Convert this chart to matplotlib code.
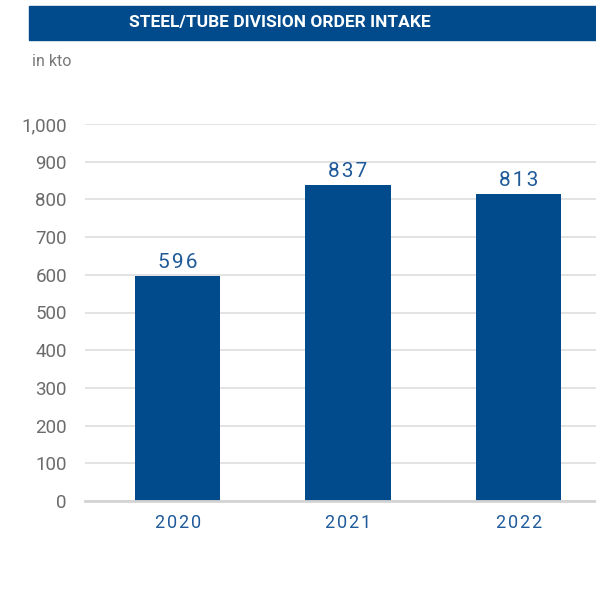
import matplotlib
matplotlib.use("Agg")
import matplotlib.pyplot as plt
from matplotlib.patches import Rectangle
from matplotlib.ticker import FuncFormatter

years = ["2020", "2021", "2022"]
order_intake = [596, 837, 813]
y_ticks = [0, 100, 200, 300, 400, 500, 600, 700, 800, 900, 1000]

title = "STEEL/TUBE DIVISION ORDER INTAKE"
unit = "in kto"

BLUE = "#014b8c"
LABEL_BLUE = "#1f5a99"
GREY_TEXT = "#6b6b6b"

plt.rcParams["font.family"] = ["Roboto", "DejaVu Sans"]


def tracked(s):
    # widen letter spacing with hair spaces
    return "\u200a".join(s)


W, H = 596, 607
fig = plt.figure(figsize=(W / 100, H / 100), dpi=100)

# title banner
fig.patches.append(Rectangle((29 / W, 1 - 40 / H), (W - 29) / W, 34 / H,
                             transform=fig.transFigure, color=BLUE, zorder=0))
fig.text(280 / W, 1 - 23 / H, title, color="white", fontsize=12.5,
         fontweight="bold", ha="center", va="center")
fig.text(32 / W, 1 - 62 / H, unit, color="#777777", fontsize=11.5,
         ha="left", va="center")

# plot area: y=0 at 501 px, y=1000 at 124 px
left, right = 85, 596
bottom, top = 501, 124
ax = fig.add_axes([left / W, 1 - bottom / H, (right - left) / W, (bottom - top) / H])
ax.set_ylim(0, 1000)
ax.set_xlim(-0.543, 2.454)

x = range(len(years))
ax.bar(x, order_intake, width=0.5, color=BLUE, zorder=2)

for xi, v in zip(x, order_intake):
    ax.annotate(tracked(f"{v:,}"), (xi, v), xytext=(0, 3), textcoords="offset points",
                ha="center", va="bottom", color=LABEL_BLUE, fontsize=15)

ax.set_yticks(y_ticks)
ax.yaxis.set_major_formatter(FuncFormatter(lambda v, p: f"{int(v):,}"))
ax.set_xticks(list(x))
ax.set_xticklabels([tracked(y) for y in years])
ax.tick_params(axis="y", length=0, pad=13, labelsize=13.5, labelcolor=GREY_TEXT)
ax.tick_params(axis="x", length=0, pad=9, labelsize=13, labelcolor=LABEL_BLUE)
ax.yaxis.grid(True, color="#dedede", linewidth=1.2, zorder=0)
ax.set_axisbelow(True)
for s in ["left", "right", "top"]:
    ax.spines[s].set_visible(False)
ax.spines["bottom"].set_color("#d4d4d4")
ax.spines["bottom"].set_linewidth(2)

fig.savefig("out.png", dpi=100)
